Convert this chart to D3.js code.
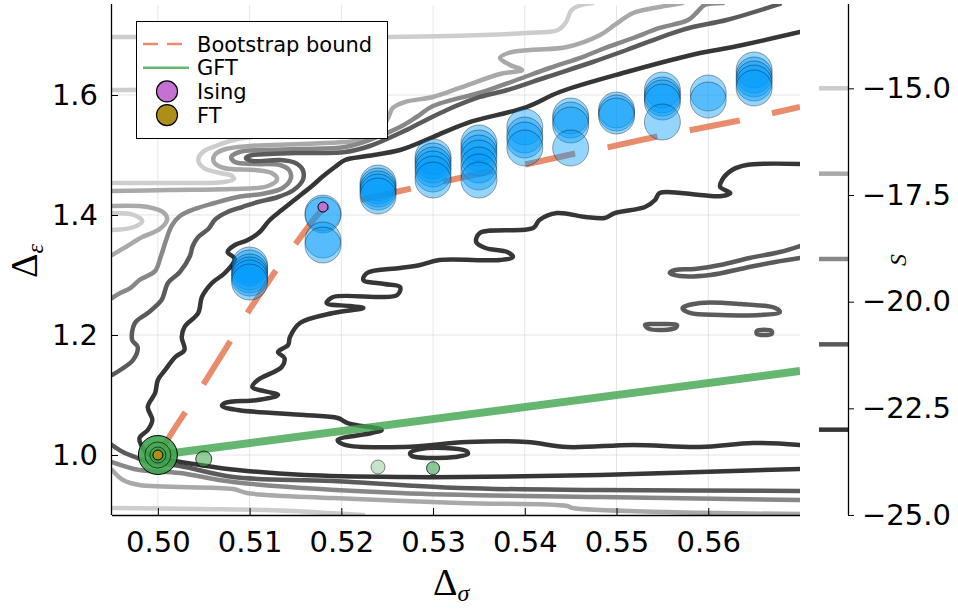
<!DOCTYPE html>
<html>
<head>
<meta charset="utf-8">
<script src="https://cdn.jsdelivr.net/npm/d3@7"></script>
<style>
  html, body { margin: 0; padding: 0; background: #fff; }
  svg { display: block; }
</style>
</head>
<body>
<svg id="chart" width="958" height="609"></svg>
<script>
// ---- data ----
const xTicks = [0.50, 0.51, 0.52, 0.53, 0.54, 0.55, 0.56];
const yTicks = [1.0, 1.2, 1.4, 1.6];
const sTicks = [-15, -17.5, -20, -22.5, -25];
const levels = [-15, -17, -19, -21, -23];

// contour paths of S, [Δσ, Δε]; a path whose last point repeats the first is closed
const contourS15 = [
  [[0.4950,1.6967],[0.5250,1.6967],[0.5318,1.6983],[0.5402,1.7033],[0.5436,1.7083],[0.5445,1.7217],[0.5451,1.7417],[0.5462,1.75],[0.5474,1.7533]],
  [[0.4950,1.6083],[0.5024,1.6083],[0.5111,1.6],[0.5155,1.575],[0.5144,1.545],[0.5111,1.5317],[0.5087,1.5267],[0.5063,1.515],[0.5049,1.505],[0.5044,1.4917],[0.5050,1.4783],[0.5068,1.47],[0.5081,1.465],[0.5083,1.46],[0.5072,1.455],[0.5013,1.4533],[0.4950,1.4533]],
  [[0.4950,1.4033],[0.4974,1.4],[0.4983,1.39],[0.4974,1.38],[0.4950,1.375]],
  [[0.4950,0.9117],[0.5046,0.91],[0.5119,0.9083],[0.5188,0.9033],[0.5224,0.90]]
];
const contourS17 = [
  [[0.5572,1.7533],[0.5547,1.7467],[0.5518,1.7367],[0.5498,1.7167],[0.5482,1.70],[0.5446,1.68],[0.5406,1.675],[0.5382,1.67],[0.5373,1.6617],[0.5384,1.65],[0.5397,1.6417],[0.5373,1.635],[0.5329,1.6117],[0.5300,1.5967],[0.5269,1.5883],[0.5256,1.5783],[0.5251,1.5617],[0.5242,1.5417],[0.5220,1.525],[0.5204,1.5217],[0.5155,1.5183],[0.5100,1.515],[0.5074,1.51],[0.5062,1.50],[0.5061,1.4883],[0.5072,1.4783],[0.5106,1.475],[0.5124,1.47],[0.5130,1.46],[0.5120,1.4483],[0.5079,1.4433],[0.5013,1.4417],[0.4950,1.44]],
  [[0.4950,1.415],[0.4989,1.4133],[0.5007,1.4033],[0.5010,1.3917],[0.5002,1.3767],[0.4983,1.3633],[0.4965,1.3467],[0.4950,1.3333]],
  [[0.4950,0.975],[0.4962,0.9583],[0.4980,0.95],[0.5082,0.9433],[0.5097,0.9367],[0.5191,0.9283],[0.5329,0.92],[0.5446,0.915],[0.5452,0.9117],[0.5555,0.905],[0.5700,0.9017]]
];
const contourS19 = [
  [[0.5616,1.7533],[0.5596,1.75],[0.5588,1.7383],[0.5578,1.725],[0.5547,1.7117],[0.5518,1.695],[0.5482,1.675],[0.5463,1.6633],[0.5427,1.645],[0.5391,1.625],[0.5354,1.605],[0.5300,1.5817],[0.5282,1.5633],[0.5264,1.5467],[0.5231,1.525],[0.5204,1.5133],[0.5155,1.51],[0.5113,1.5083],[0.5089,1.505],[0.5080,1.4967],[0.5084,1.4883],[0.5106,1.485],[0.5133,1.4833],[0.5143,1.475],[0.5145,1.4617],[0.5136,1.445],[0.5113,1.435],[0.5087,1.43],[0.5062,1.42],[0.5040,1.41],[0.5024,1.3983],[0.5015,1.3817],[0.5009,1.3583],[0.5003,1.33],[0.4997,1.3067],[0.4980,1.2917],[0.4970,1.2783],[0.4959,1.27],[0.4950,1.2617]],
  [[0.4950,0.9883],[0.4980,0.975],[0.5024,0.97],[0.5082,0.955],[0.5264,0.9367],[0.5482,0.93],[0.5700,0.925]]
];
const contourS21 = [
  [[0.5678,1.7517],[0.5620,1.725],[0.5583,1.7133],[0.5561,1.7033],[0.5511,1.675],[0.5474,1.655],[0.5424,1.63],[0.5381,1.6083],[0.5351,1.5967],[0.5315,1.575],[0.5286,1.5533],[0.5264,1.5367],[0.5231,1.515],[0.5204,1.505],[0.5155,1.5033],[0.5122,1.5017],[0.5103,1.50],[0.5096,1.495],[0.5103,1.49],[0.5133,1.4917],[0.5150,1.4867],[0.5158,1.475],[0.5158,1.4583],[0.5148,1.4417],[0.5131,1.43],[0.5109,1.4217],[0.5092,1.4133],[0.5076,1.405],[0.5063,1.3933],[0.5055,1.3767],[0.5044,1.3633],[0.5038,1.3483],[0.5035,1.3317],[0.5024,1.305],[0.5011,1.2867],[0.5004,1.2583],[0.4989,1.2367],[0.4975,1.22],[0.4972,1.1917],[0.4978,1.18],[0.4973,1.1583],[0.4959,1.1417],[0.4950,1.1333]],
  [[0.4950,1.0167],[0.4962,1.005],[0.4975,0.9967],[0.4991,0.9883],[0.5024,0.9817],[0.5082,0.9633],[0.5191,0.9567],[0.5329,0.945],[0.5482,0.9417],[0.5700,0.94]],
  [[0.5700,1.3483],[0.5678,1.3383],[0.5645,1.3283],[0.5613,1.3167],[0.5585,1.31],[0.5564,1.3083],[0.5558,1.3033],[0.5569,1.2983],[0.5602,1.30],[0.5640,1.3117],[0.5673,1.3217],[0.5700,1.3283]],
  [[0.5572,1.245],[0.5591,1.2533],[0.5635,1.2517],[0.5673,1.245],[0.5678,1.2383],[0.5656,1.2333],[0.5613,1.2333],[0.5580,1.2367],[0.5572,1.245]],
  [[0.5531,1.2167],[0.5549,1.2183],[0.5566,1.2167],[0.5564,1.2117],[0.5536,1.21],[0.5531,1.2167]],
  [[0.5653,1.2067],[0.5669,1.2067],[0.5669,1.2017],[0.5653,1.2017],[0.5653,1.2067]]
];
const contourS23 = [
  [[0.5700,1.705],[0.5627,1.68],[0.5591,1.67],[0.5511,1.6383],[0.5438,1.605],[0.5402,1.58],[0.5337,1.5533],[0.5300,1.53],[0.5264,1.5083],[0.5228,1.4983],[0.5204,1.4917],[0.5193,1.48],[0.5179,1.4633],[0.5168,1.4483],[0.5157,1.435],[0.5146,1.4217],[0.5135,1.4083],[0.5122,1.3917],[0.5111,1.3717],[0.5098,1.3583],[0.5084,1.35],[0.5076,1.3383],[0.5084,1.3267],[0.5073,1.3033],[0.5059,1.2867],[0.5048,1.2633],[0.5044,1.2367],[0.5029,1.2133],[0.5026,1.1967],[0.5029,1.175],[0.5019,1.1633],[0.5008,1.1417],[0.5000,1.125],[0.4997,1.1033],[0.4989,1.08],[0.4994,1.0583],[0.4989,1.0417],[0.4980,1.0283],[0.4983,1.0133],[0.4991,1.0],[0.5013,0.9917],[0.5046,0.9833],[0.5087,0.975],[0.5160,0.9667],[0.5269,0.9633],[0.5329,0.9633],[0.5482,0.9667],[0.5591,0.9717],[0.5700,0.9767]],
  [[0.5700,1.485],[0.5642,1.4833],[0.5626,1.475],[0.5615,1.4583],[0.5613,1.4467],[0.5624,1.4367],[0.5615,1.4317],[0.5591,1.4333],[0.5547,1.4367],[0.5542,1.425],[0.5531,1.4133],[0.5498,1.4033],[0.5487,1.395],[0.5466,1.3967],[0.5435,1.4033],[0.5416,1.3917],[0.5409,1.3783],[0.5351,1.37],[0.5347,1.355],[0.5357,1.345],[0.5381,1.3383],[0.5387,1.33],[0.5373,1.325],[0.5307,1.325],[0.5286,1.3167],[0.5264,1.3117],[0.5228,1.3033],[0.5224,1.2917],[0.5247,1.285],[0.5264,1.28],[0.5261,1.2667],[0.5191,1.2633],[0.5184,1.2533],[0.5209,1.2483],[0.5224,1.245],[0.5191,1.2367],[0.5155,1.22],[0.5144,1.1967],[0.5142,1.1833],[0.5131,1.1717],[0.5138,1.1617],[0.5135,1.1467],[0.5109,1.125],[0.5103,1.1133],[0.5131,1.10],[0.5109,1.0917],[0.5073,1.0867],[0.5070,1.0817],[0.5087,1.075],[0.5160,1.0667],[0.5196,1.0617],[0.5207,1.0533],[0.5244,1.0417],[0.5233,1.0367],[0.5196,1.025],[0.5204,1.0167],[0.5269,1.0133],[0.5337,1.0217],[0.5402,1.0217],[0.5446,1.0133],[0.5518,1.0167],[0.5591,1.0133],[0.5649,1.02],[0.5700,1.0167]],
  [[0.5275,1.0033],[0.5286,1.01],[0.5313,1.0117],[0.5336,1.0067],[0.5338,1.0017],[0.5324,0.9967],[0.5297,0.995],[0.5277,0.9983],[0.5275,1.0033]]
];

// bootstrap bound
const boundSigma = [0.5, 0.50185, 0.50458, 0.5073, 0.51003, 0.51275, 0.51548, 0.51711, 0.5181, 0.52202, 0.52638, 0.53292, 0.53979, 0.54524, 0.54873, 0.55418, 0.56312, 0.57];
const boundEps   = [1.0, 1.045, 1.1083, 1.175, 1.2433, 1.305, 1.3617, 1.395, 1.4117, 1.425, 1.44, 1.4617, 1.4833, 1.5017, 1.5117, 1.53, 1.5567, 1.58];

// generalized free theory line
const gftSigma = [0.5, 0.57];
const gftEps = [1.0, 1.14];

// fitted points (blue), grouped by Δσ
const fitSigma = [0.51, 0.518, 0.524, 0.53, 0.535, 0.54, 0.545, 0.55, 0.555, 0.56, 0.565];
const fitEps = [
  [1.3167, 1.3117, 1.305, 1.30, 1.295, 1.2883],
  [1.4033, 1.40, 1.3583, 1.35],
  [1.4533, 1.4483, 1.4433, 1.4383, 1.4317],
  [1.4967, 1.49, 1.4833, 1.4767, 1.4683, 1.4583],
  [1.52, 1.5117, 1.5033, 1.495, 1.4833, 1.4717, 1.4583],
  [1.5467, 1.5333, 1.525, 1.5117],
  [1.565, 1.5583, 1.55, 1.5117],
  [1.575, 1.57, 1.565],
  [1.6083, 1.60, 1.595, 1.5883, 1.555],
  [1.6033, 1.5917],
  [1.6417, 1.6333, 1.6267, 1.62, 1.6117]
];

// green points near the free theory
const greenSigma = [0.5, 0.5, 0.5, 0.505, 0.524, 0.53];
const greenEps = [1.0, 1.0, 1.0, 0.9933, 0.98, 0.978];
const greenRadius = [19.5, 13, 8, 8, 7, 6.5];
const greenAlpha = [0.9, 0.45, 0.45, 0.55, 0.3, 0.6];

const isingPoint = [0.518, 1.4133];
const ftPoint = [0.5, 1.0];

// ---- layout ----
const svg = d3.select('#chart');
const plot = { left: 112, right: 800, top: 5, bottom: 515 };
const x = d3.scaleLinear().domain([0.495, 0.57]).range([plot.left, plot.right]);
const y = d3.scaleLinear().domain([0.9, 1.75]).range([plot.bottom, plot.top]);
const sScale = d3.scaleLinear().domain([-25, -13]).range([515, 3]);
const levelColor = d3.scaleOrdinal().domain(levels)
  .range(['#cdcdcd', '#a9a9a9', '#888888', '#5b5b5b', '#363636']);

const font = '"DejaVu Sans", sans-serif';
const tickFont = 29;

svg.append('defs').append('clipPath').attr('id', 'clip')
  .append('rect')
  .attr('x', plot.left).attr('y', plot.top - 1)
  .attr('width', plot.right - plot.left).attr('height', plot.bottom - plot.top + 1);

// grid
const grid = svg.append('g').attr('stroke', '#000').attr('stroke-opacity', 0.1).attr('stroke-width', 1);
grid.selectAll('.gx').data(xTicks).join('line')
  .attr('x1', d => x(d)).attr('x2', d => x(d))
  .attr('y1', plot.top).attr('y2', plot.bottom);
grid.selectAll('.gy').data(yTicks).join('line')
  .attr('x1', plot.left).attr('x2', plot.right)
  .attr('y1', d => y(d)).attr('y2', d => y(d));

const body = svg.append('g').attr('clip-path', 'url(#clip)');

// contours
const open = d3.line().x(d => x(d[0])).y(d => y(d[1])).curve(d3.curveCatmullRom.alpha(0.5));
const closed = d3.line().x(d => x(d[0])).y(d => y(d[1])).curve(d3.curveCatmullRomClosed.alpha(0.5));
const contourSets = [
  [-15, contourS15], [-17, contourS17], [-19, contourS19], [-21, contourS21], [-23, contourS23]
];
contourSets.forEach(([lvl, paths]) => {
  paths.forEach(p => {
    const first = p[0], last = p[p.length - 1];
    const isClosed = first[0] === last[0] && first[1] === last[1];
    body.append('path')
      .attr('d', isClosed ? closed(p.slice(0, -1)) : open(p))
      .attr('fill', 'none')
      .attr('stroke', levelColor(lvl))
      .attr('stroke-width', 4.5)
      .attr('stroke-linecap', 'round')
      .attr('stroke-linejoin', 'round');
  });
});

// bootstrap bound
const lin = d3.line().x(d => x(d[0])).y(d => y(d[1]));
body.append('path')
  .attr('d', lin(d3.zip(boundSigma, boundEps)))
  .attr('fill', 'none')
  .attr('stroke', '#E36F47')
  .attr('stroke-opacity', 0.8)
  .attr('stroke-width', 6)
  .attr('stroke-dasharray', '51 33');

// GFT
body.append('path')
  .attr('d', lin(d3.zip(gftSigma, gftEps)))
  .attr('fill', 'none')
  .attr('stroke', '#3EA44E')
  .attr('stroke-opacity', 0.8)
  .attr('stroke-width', 8);

// green points
body.selectAll('.green').data(d3.range(greenSigma.length)).join('circle')
  .attr('cx', i => x(greenSigma[i]))
  .attr('cy', i => y(greenEps[i]))
  .attr('r', i => greenRadius[i])
  .attr('fill', '#3EA44E')
  .attr('fill-opacity', i => greenAlpha[i])
  .attr('stroke', '#000')
  .attr('stroke-opacity', i => Math.min(1, greenAlpha[i] + 0.15))
  .attr('stroke-width', 1);

// fitted points
const fitPts = [];
fitSigma.forEach((s, i) => fitEps[i].forEach(e => fitPts.push([s, e])));
body.selectAll('.fit').data(fitPts).join('circle')
  .attr('cx', d => x(d[0]))
  .attr('cy', d => y(d[1]))
  .attr('r', 18)
  .attr('fill', '#009AFA')
  .attr('fill-opacity', 0.42)
  .attr('stroke', '#000')
  .attr('stroke-opacity', 0.35)
  .attr('stroke-width', 1);

// Ising and FT
body.append('circle')
  .attr('cx', x(isingPoint[0])).attr('cy', y(isingPoint[1])).attr('r', 5)
  .attr('fill', '#C371D2').attr('stroke', '#000').attr('stroke-width', 1);
body.append('circle')
  .attr('cx', x(ftPoint[0])).attr('cy', y(ftPoint[1])).attr('r', 5)
  .attr('fill', '#AC8E18').attr('stroke', '#000').attr('stroke-width', 1);

// axes
const xAxis = svg.append('g')
  .attr('transform', `translate(0,${plot.bottom})`)
  .call(d3.axisBottom(x).tickValues(xTicks).tickFormat(d3.format('.2f'))
    .tickSizeInner(-7).tickSizeOuter(0).tickPadding(16));
const yAxis = svg.append('g')
  .attr('transform', `translate(${plot.left},0)`)
  .call(d3.axisLeft(y).tickValues(yTicks).tickFormat(d3.format('.1f'))
    .tickSizeInner(-6).tickSizeOuter(0).tickPadding(14));
[xAxis, yAxis].forEach(a => {
  a.select('.domain').attr('stroke', '#000').attr('stroke-width', 1.3);
  a.selectAll('.tick line').attr('stroke', '#000').attr('stroke-width', 1);
  a.selectAll('text').attr('font-family', font).attr('font-size', tickFont).attr('fill', '#000');
});
xAxis.select('.domain').attr('d', `M${plot.left},0.5H${plot.right}`);
yAxis.select('.domain').attr('d', `M-0.5,${plot.bottom}V${plot.top - 1}`);

// colorbar-like level scale
const cbX = 848;
const cb = svg.append('g');
cb.selectAll('line.lvl').data(levels).join('line')
  .attr('x1', 819).attr('x2', cbX)
  .attr('y1', d => sScale(d)).attr('y2', d => sScale(d))
  .attr('stroke', d => levelColor(d))
  .attr('stroke-width', 4.5);
const sAxis = svg.append('g')
  .attr('transform', `translate(${cbX},0)`)
  .call(d3.axisRight(sScale).tickValues(sTicks).tickFormat(d3.format('.1f'))
    .tickSizeInner(6).tickSizeOuter(0).tickPadding(8));
sAxis.select('.domain').attr('d', `M0.5,${plot.top - 1}V${plot.bottom}`).attr('stroke', '#000').attr('stroke-width', 1.3);
sAxis.selectAll('.tick line').attr('stroke', '#000');
sAxis.selectAll('text').attr('font-family', font).attr('font-size', tickFont).attr('fill', '#000');

// axis titles
const serif = '"Liberation Serif", "DejaVu Serif", serif';
const xl = svg.append('text')
  .attr('x', 433).attr('y', 595)
  .attr('font-family', serif).attr('font-size', 38).attr('fill', '#000');
xl.append('tspan').text('Δ');
xl.append('tspan').attr('font-style', 'italic').attr('font-size', 24).attr('dy', 6).text('σ');

const yl = svg.append('text')
  .attr('transform', 'translate(37,278) rotate(-90)')
  .attr('font-family', serif).attr('font-size', 38).attr('fill', '#000');
yl.append('tspan').text('Δ');
yl.append('tspan').attr('font-style', 'italic').attr('font-size', 24).attr('dy', 6).text('ε');

svg.append('text')
  .attr('transform', 'translate(906,260) rotate(-90)')
  .attr('text-anchor', 'middle')
  .attr('font-family', serif).attr('font-style', 'italic').attr('font-size', 24)
  .attr('fill', '#000').text('S');

// legend
const lg = svg.append('g');
lg.append('rect').attr('x', 136.5).attr('y', 21.5).attr('width', 251).attr('height', 117)
  .attr('fill', '#fff').attr('stroke', '#000').attr('stroke-width', 1);
const legendItems = [
  { label: 'Bootstrap bound', kind: 'dash', color: '#E36F47' },
  { label: 'GFT', kind: 'line', color: '#3EA44E' },
  { label: 'Ising', kind: 'dot', color: '#C371D2' },
  { label: 'FT', kind: 'dot', color: '#AC8E18' }
];
legendItems.forEach((it, i) => {
  const cy = 44 + i * 23.7;
  if (it.kind === 'dot') {
    lg.append('circle').attr('cx', 167).attr('cy', cy).attr('r', 10.5)
      .attr('fill', it.color).attr('stroke', '#000').attr('stroke-width', 1.2);
  } else {
    lg.append('line').attr('x1', 143).attr('x2', 189).attr('y1', cy).attr('y2', cy)
      .attr('stroke', it.color).attr('stroke-opacity', 0.8).attr('stroke-width', 2.5)
      .attr('stroke-dasharray', it.kind === 'dash' ? '15 9' : null);
  }
  lg.append('text').attr('x', 197).attr('y', cy).attr('dy', '0.36em')
    .attr('font-family', font).attr('font-size', 21).attr('fill', '#000')
    .text(it.label);
});
</script>
</body>
</html>
